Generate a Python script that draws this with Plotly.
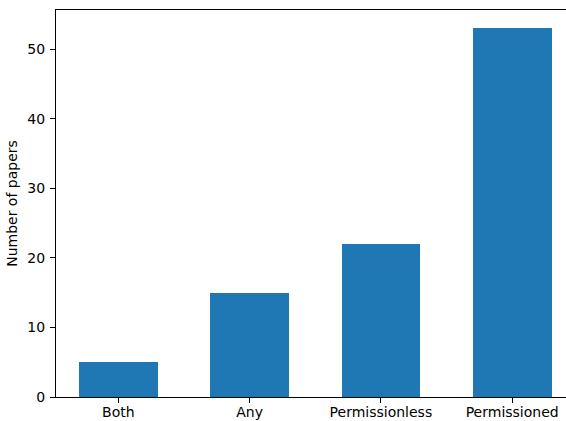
import plotly.graph_objects as go

categories = ["Both", "Any", "Permissionless", "Permissioned"]
papers = [5, 15, 22, 53]
y_ticks = [0, 10, 20, 30, 40, 50]

fig = go.Figure(
    go.Bar(
        x=list(range(len(categories))),
        y=papers,
        width=0.6,
        marker=dict(color="#1f77b4", line=dict(width=0)),
    )
)

font = dict(family="DejaVu Sans", size=14, color="black")

fig.update_layout(
    width=566,
    height=421,
    margin=dict(l=56, r=0, t=10, b=24),
    plot_bgcolor="white",
    paper_bgcolor="white",
    font=font,
    showlegend=False,
    bargap=0,
)

fig.update_xaxes(
    range=[-0.475, 3.41],
    tickmode="array",
    tickvals=list(range(len(categories))),
    ticktext=categories,
    ticks="outside",
    ticklen=5,
    tickwidth=1,
    tickcolor="black",
    showline=True,
    linecolor="black",
    linewidth=1,
    mirror=True,
    showgrid=False,
    zeroline=False,
    automargin=False,
    tickfont=font,
    ticklabelstandoff=-3,
)

fig.update_yaxes(
    range=[0, 55.65],
    tickmode="array",
    tickvals=y_ticks,
    ticks="outside",
    ticklen=5,
    tickwidth=1,
    tickcolor="black",
    showline=True,
    linecolor="black",
    linewidth=1,
    showgrid=False,
    zeroline=False,
    automargin=False,
    tickfont=font,
    ticklabelstandoff=2,
    title=dict(text="Number of papers", font=font, standoff=6),
)

fig.write_html("out.html")
